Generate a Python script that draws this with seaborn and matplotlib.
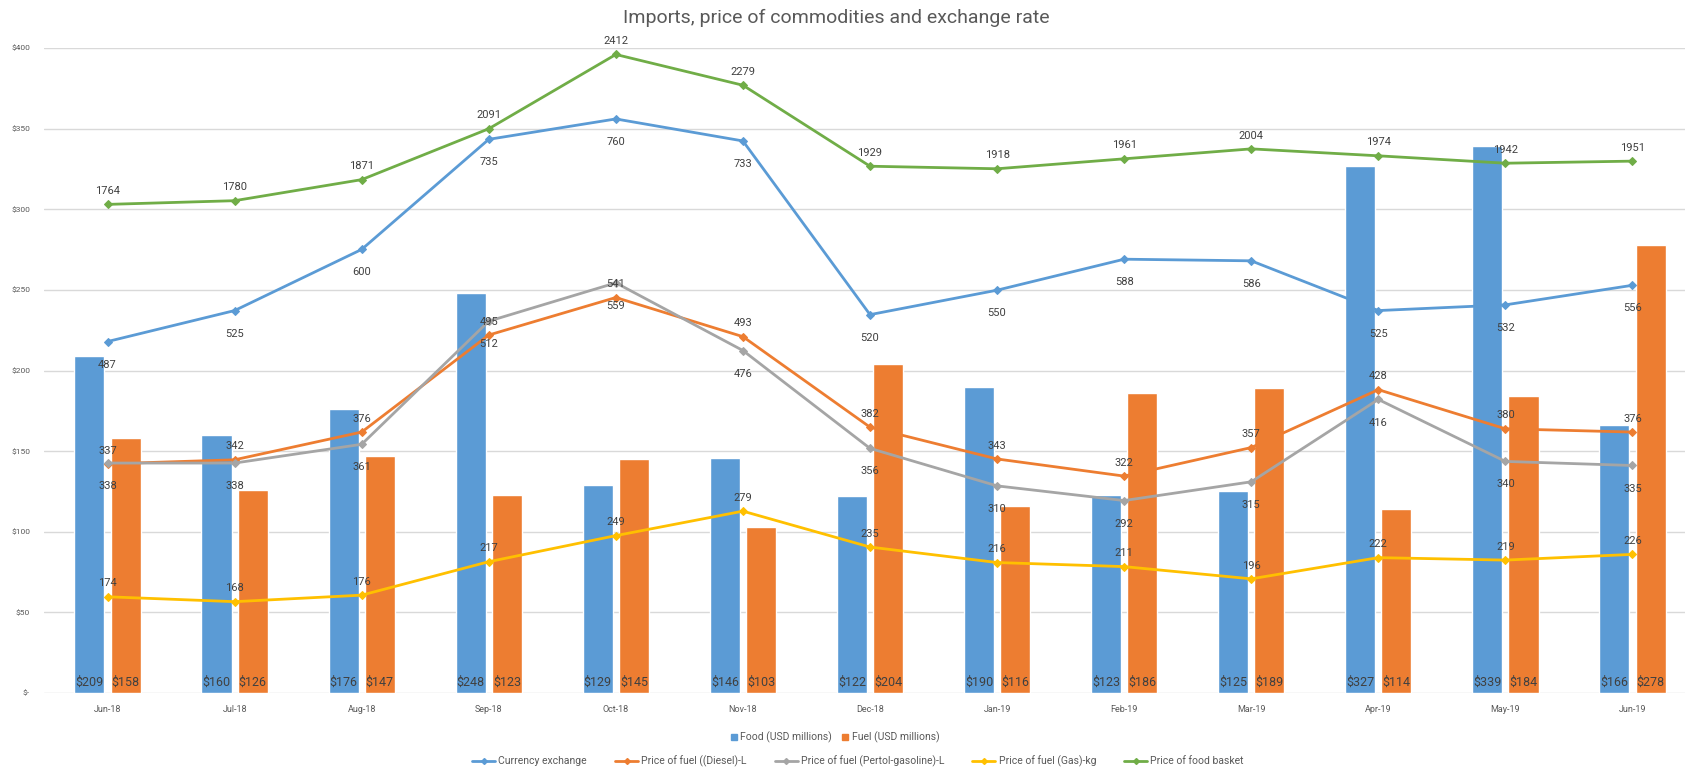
import matplotlib
matplotlib.use("Agg")
import matplotlib.pyplot as plt
from matplotlib.lines import Line2D
import seaborn as sns
import pandas as pd
import numpy as np

# ---- data ----
months = ["Jun-18", "Jul-18", "Aug-18", "Sep-18", "Oct-18", "Nov-18", "Dec-18",
          "Jan-19", "Feb-19", "Mar-19", "Apr-19", "May-19", "Jun-19"]
food_imports = [209, 160, 176, 248, 129, 146, 122, 190, 123, 125, 327, 339, 166]
fuel_imports = [158, 126, 147, 123, 145, 103, 204, 116, 186, 189, 114, 184, 278]
currency_exchange = [487, 525, 600, 735, 760, 733, 520, 550, 588, 586, 525, 532, 556]
diesel_price = [337, 342, 376, 495, 541, 493, 382, 343, 322, 357, 428, 380, 376]
petrol_price = [338, 338, 361, 512, 559, 476, 356, 310, 292, 315, 416, 340, 335]
gas_price = [174, 168, 176, 217, 249, 279, 235, 216, 211, 196, 222, 219, 226]
food_basket = [1764, 1780, 1871, 2091, 2412, 2279, 1929, 1918, 1961, 2004, 1974, 1942, 1951]
yticks = [0, 50, 100, 150, 200, 250, 300, 350, 400]

BLUE = "#5B9BD5"
ORANGE = "#ED7D31"
GRAY = "#A5A5A5"
YELLOW = "#FFC000"
GREEN = "#70AD47"
TXT = "#595959"
LBL = "#404040"

sns.set_style("white")
plt.rcParams["font.family"] = ["Roboto", "DejaVu Sans"]

W, H = 1685, 769
fig = plt.figure(figsize=(W / 100, H / 100), dpi=100)
ax = fig.add_axes([44 / W, 1 - 693 / H, 1652 / W, 645 / H])

# bars
bars = pd.DataFrame({
    "month": months * 2,
    "value": food_imports + fuel_imports,
    "series": ["Food (USD millions)"] * len(months) + ["Fuel (USD millions)"] * len(months),
})
sns.barplot(data=bars, x="month", y="value", hue="series", palette=[BLUE, ORANGE],
            width=0.57, gap=0.17, saturation=1, ax=ax, legend=False)
ax.set_ylim(0, 400)
ax.set_xlim(-0.5, len(months) - 0.5)
ax.set_yticks(yticks)
ax.set_yticklabels(["$-"] + [f"${v}" for v in yticks[1:]], fontsize=6, color=TXT)
ax.tick_params(axis="x", labelsize=6.5, colors=TXT, length=0, pad=9)
ax.tick_params(axis="y", length=0, pad=10)
ax.set_xlabel("")
ax.set_ylabel("")
ax.grid(axis="y", color="#D9D9D9", linewidth=1)
ax.set_axisbelow(True)
for s in ax.spines.values():
    s.set_visible(False)

# value labels at the base of each bar
for cont, vals in zip(ax.containers, [food_imports, fuel_imports]):
    for patch, v in zip(cont.patches, vals):
        ax.annotate(f"${v}", (patch.get_x() + patch.get_width() / 2, 0),
                    xytext=(0, 3), textcoords="offset points", ha="center", va="bottom",
                    fontsize=9, color=LBL)

x = np.arange(len(months))

# price lines on hidden secondary axes
ax2 = ax.twinx()
ax2.set_ylim(56, 847)
ax3 = ax.twinx()
ax3.set_ylim(-348, 2440)
for a in (ax2, ax3):
    a.set_axis_off()

series = [
    (ax2, currency_exchange, BLUE, "Currency exchange", -13),
    (ax2, diesel_price, ORANGE, "Price of fuel ((Diesel)-L", 6),
    (ax2, petrol_price, GRAY, "Price of fuel (Pertol-gasoline)-L", -13),
    (ax2, gas_price, YELLOW, "Price of fuel (Gas)-kg", 6),
    (ax3, food_basket, GREEN, "Price of food basket", 6),
]
for a, vals, col, name, off in series:
    sns.lineplot(x=x, y=vals, ax=a, color=col, linewidth=2, marker="D",
                 markersize=4, markeredgecolor=col, legend=False)
    for xi, v in zip(x, vals):
        a.annotate(str(v), (xi, v), xytext=(0, off), textcoords="offset points",
                   ha="center", va="bottom" if off > 0 else "top", fontsize=8, color=LBL)

fig.text(836 / W, 1 - 18 / H, "Imports, price of commodities and exchange rate",
         ha="center", va="center", fontsize=14, color=TXT)

bar_handles = [Line2D([], [], marker="s", linestyle="none", color=c, markersize=4)
               for c in (BLUE, ORANGE)]
fig.legend(bar_handles, ["Food (USD millions)", "Fuel (USD millions)"],
           loc="center", bbox_to_anchor=(835 / W, 1 - 737 / H), ncol=2, frameon=False,
           fontsize=7.5, handlelength=0.6, handletextpad=0.3, columnspacing=1.0,
           labelcolor=TXT)
line_handles = [Line2D([], [], color=c, marker="D", markersize=3, linewidth=2)
                for _, _, c, _, _ in series]
fig.legend(line_handles, [n for _, _, _, n, _ in series],
           loc="center", bbox_to_anchor=(858 / W, 1 - 761 / H), ncol=5, frameon=False,
           fontsize=7.5, handlelength=2.2, handletextpad=0.3, columnspacing=2.7,
           labelcolor=TXT)

fig.savefig("out.png", dpi=100)
